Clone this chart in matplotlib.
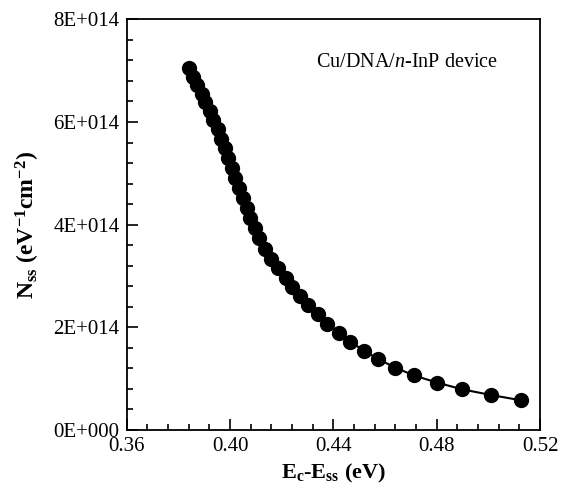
import numpy as np
import matplotlib.pyplot as plt
from matplotlib.ticker import MultipleLocator, FuncFormatter

# Ec-Ess (eV) and Nss (x1E14 eV-1 cm-2)
e_diff = [0.3841, 0.3857, 0.3872, 0.3890, 0.3905, 0.3921, 0.3936, 0.3952,
          0.3965, 0.3979, 0.3992, 0.4006, 0.4019, 0.4035, 0.4050, 0.4066,
          0.4079, 0.4095, 0.4112, 0.4135, 0.4159, 0.4186, 0.4215, 0.4240,
          0.4269, 0.4302, 0.4339, 0.4377, 0.4422, 0.4466, 0.4517, 0.4573,
          0.4639, 0.4712, 0.4801, 0.4898, 0.5010, 0.5125]
nss_e14 = [7.051, 6.876, 6.720, 6.554, 6.389, 6.213, 6.038, 5.863,
           5.678, 5.493, 5.298, 5.103, 4.908, 4.714, 4.519, 4.324,
           4.129, 3.935, 3.740, 3.526, 3.331, 3.155, 2.970, 2.785,
           2.610, 2.435, 2.250, 2.074, 1.899, 1.724, 1.548, 1.383,
           1.217, 1.062, 0.925, 0.793, 0.682, 0.580]

nss = np.array(nss_e14) * 1e14

plt.rcParams['font.family'] = ['Liberation Serif', 'DejaVu Serif']
plt.rcParams['mathtext.fontset'] = 'custom'
plt.rcParams['mathtext.rm'] = 'Liberation Serif'
plt.rcParams['mathtext.it'] = 'Liberation Serif:italic'
plt.rcParams['mathtext.bf'] = 'Liberation Serif:bold'

fig = plt.figure(figsize=(5.61, 4.95), dpi=100)
ax = fig.add_axes([0.2258, 0.1313, 0.7368, 0.8297])

ax.plot(e_diff, nss, color='black', lw=1.5, marker='o', ms=10,
        markerfacecolor='black', markeredgecolor='black')

ax.set_xlim(0.36, 0.52)
ax.set_ylim(0, 8e14)
ax.xaxis.set_major_locator(MultipleLocator(0.04))
ax.xaxis.set_minor_locator(MultipleLocator(0.008))
ax.yaxis.set_major_locator(MultipleLocator(2e14))
ax.yaxis.set_minor_locator(MultipleLocator(4e13))
ax.xaxis.set_major_formatter(FuncFormatter(lambda v, p: '%.2f' % v))
ax.yaxis.set_major_formatter(FuncFormatter(lambda v, p: '%dE+%03d' % (round(v / 1e14), 0 if v == 0 else 14)))

ax.tick_params(which='both', direction='in', top=False, right=False,
               labelsize=15, width=1.2)
ax.tick_params(which='major', length=8, pad=5)
ax.tick_params(which='minor', length=4)
for s in ax.spines.values():
    s.set_linewidth(1.3)

ax.set_xlabel(r'$\mathbf{E_{c}}$-$\mathbf{E_{ss}}$ (eV)', fontsize=16,
              fontweight='bold', labelpad=4)
ax.set_ylabel(r'$\mathbf{N_{ss}}$ $\mathbf{(eV^{-1}cm^{-2})}$', fontsize=17,
              labelpad=8)

ax.text(0.458, 0.896, r'Cu/DNA/$\mathit{n}$-InP device', transform=ax.transAxes,
        fontsize=14.5, va='center', ha='left')

fig.savefig('out.png', dpi=100)
